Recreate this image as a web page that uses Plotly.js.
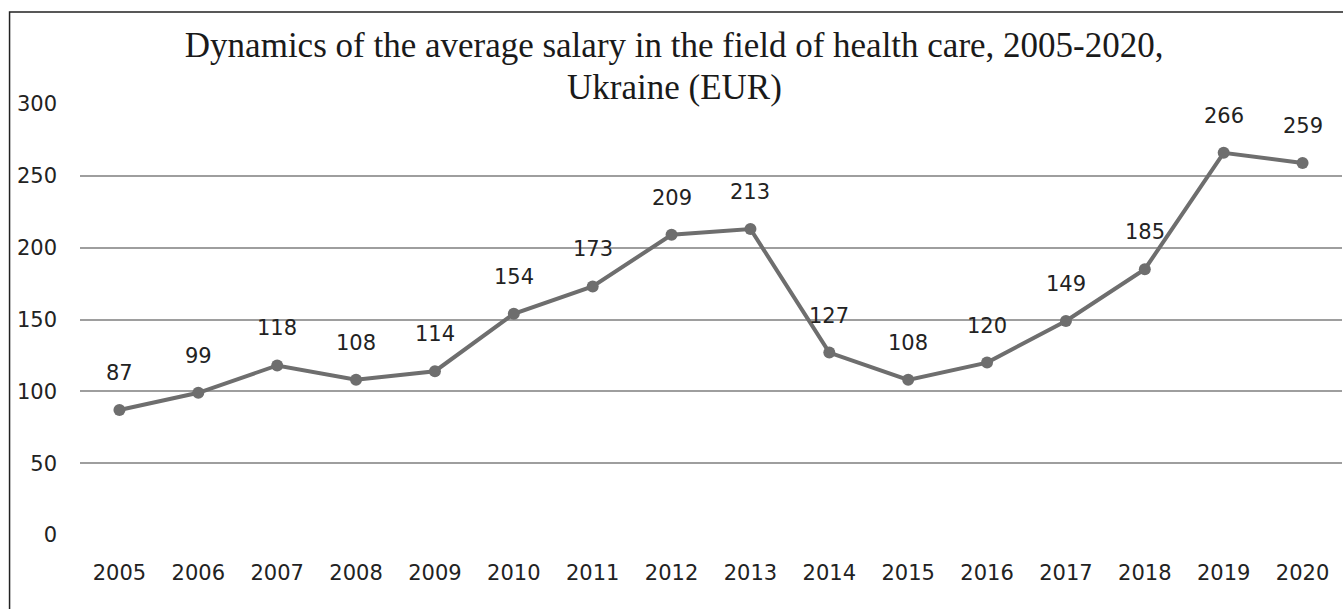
<!DOCTYPE html>
<html><head><meta charset="utf-8">
<script src="https://cdn.plot.ly/plotly-3.0.1.min.js"></script>
<style>html,body{margin:0;padding:0;background:#fff;}#chart{width:1343px;height:609px;}</style>
</head><body><div id="chart"></div>
<script>
const years = ['2005','2006','2007','2008','2009','2010','2011','2012','2013','2014','2015','2016','2017','2018','2019','2020'];
const salary = [87, 99, 118, 108, 114, 154, 173, 209, 213, 127, 108, 120, 149, 185, 266, 259];
const yTicks = [0, 50, 100, 150, 200, 250, 300];
const titleLine1 = 'Dynamics of the average salary in the field of health care, 2005-2020,';
const titleLine2 = 'Ukraine (EUR)';

const trace = {
  x: years, y: salary, type: 'scatter', mode: 'lines+markers',
  line: {color: '#6e6e6e', width: 4},
  marker: {color: '#6e6e6e', size: 12},
  hoverinfo: 'skip', cliponaxis: false
};

const annotations = years.map((yr, i) => ({
  x: i, y: salary[i], text: String(salary[i]), showarrow: false,
  yshift: 37, yanchor: 'middle', xanchor: 'center',
  font: {family: 'DejaVu Sans', size: 21, color: '#222'}
}));
annotations.push({
  xref: 'paper', yref: 'paper', x: (674 - 79.5) / 1263, y: (535 - 87) / 431,
  xanchor: 'center', yanchor: 'middle', showarrow: false, text: titleLine2,
  font: {family: 'Liberation Serif', size: 35, color: '#1a1a1a'}
});

const layout = {
  width: 1343, height: 609,
  margin: {l: 79.5, r: 0.5, t: 104, b: 74},
  paper_bgcolor: '#fff', plot_bgcolor: '#fff',
  showlegend: false,
  title: {
    text: titleLine1,
    font: {family: 'Liberation Serif', size: 35, color: '#1a1a1a'},
    x: 0.502, xref: 'container', xanchor: 'center',
    y: 1 - 45/609, yref: 'container', yanchor: 'middle'
  },
  xaxis: {
    type: 'category', range: [-0.5, 15.5], autorange: false,
    showgrid: false, zeroline: false, showline: false,
    ticks: '', tickfont: {family: 'DejaVu Sans', size: 21, color: '#222'},
    ticklabelstandoff: 23, fixedrange: true
  },
  yaxis: {
    range: [0, 300], autorange: false, tickvals: yTicks, ticktext: yTicks.map(String),
    showgrid: true, gridcolor: '#9e9e9e', gridwidth: 2,
    zeroline: false, showline: false, ticks: '',
    tickfont: {family: 'DejaVu Sans', size: 21, color: '#222'},
    ticklabelstandoff: 22, fixedrange: true
  },
  annotations: annotations,
  shapes: [{
    type: 'rect', xref: 'paper', yref: 'paper', layer: 'above',
    x0: (9 - 79.5) / 1263, x1: 1.05, y0: -0.5, y1: (535 - 12) / 431,
    line: {color: '#222', width: 1.5}, fillcolor: 'rgba(0,0,0,0)'
  }]
};

Plotly.newPlot('chart', [trace], layout, {displayModeBar: false, staticPlot: true});
</script></body></html>
